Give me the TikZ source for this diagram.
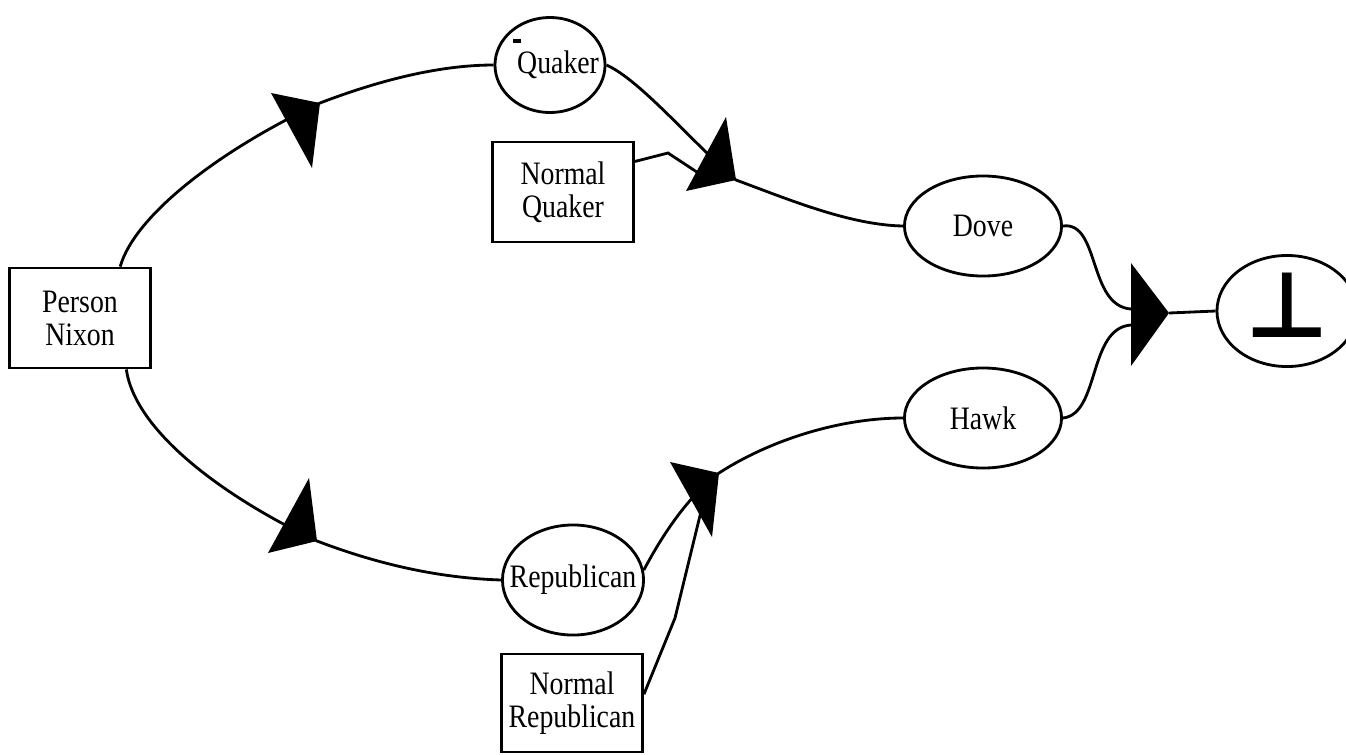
\documentclass[tikz,border=0pt]{standalone}
\usepackage{fontspec}
\setmainfont{Liberation Serif}[FakeStretch=0.85]
\newfontfamily\symfont{DejaVu Sans}
\usetikzlibrary{shapes.geometric}
\begin{document}
\begin{tikzpicture}[x=0.01cm, y=-0.01cm, line width=0.8pt,
		every node/.style={font=\fontsize{9.3}{9.4}\selectfont, align=center, inner sep=0pt},
		box/.style={draw, rectangle, minimum width=1.41cm, minimum height=1cm},
		oval/.style={draw, ellipse, minimum width=1.57cm, minimum height=1cm}]
		\useasboundingbox (0,0) rectangle (1346,754);
		\node[box] (person) at (80,318) {Person\\Nixon};
		\node[oval, minimum width=1.1cm, minimum height=0.95cm, label={[xshift=2.3pt]center:Quaker}] (quaker) at (550,65) {};
		\fill (513,39) rectangle (521,42.5);
		\node[box] (nquaker) at (563,192) {Normal\\Quaker};
		\node[oval, label=center:Dove] (dove) at (983,226) {};
		\node[oval, label=center:Hawk] (hawk) at (983,418) {};
		\node[oval, minimum width=1.41cm, minimum height=1.1cm, label=center:Republican] (rep) at (573,580) {};
		\node[box, minimum height=0.98cm] (nrep) at (572,703) {Normal\\Republican};
		\node[oval, minimum width=1.4cm, minimum height=1.11cm, label={[font=\symfont\bfseries\fontsize{26}{26}\selectfont, yshift=1.5pt]center:⊥}] (bot) at (1287,311) {};
		\coordinate (t1) at (320,103);
		\coordinate (t2) at (317,541);
		\coordinate (t3) at (736,180);
		\coordinate (t4) at (719,473);
		\coordinate (t5) at (1169,313);
		\coordinate (q3) at (712,182);
		\coordinate (r4) at (705,495);
		\coordinate (d5) at (1131,309);
		\coordinate (h5) at (1131,325);
		\draw (person.52) .. controls (135,215) and (220,150) .. (t1) .. controls (380,80) and (440,65) .. (quaker.west);
		\draw (person.-48) .. controls (135,430) and (220,495) .. (t2) .. controls (380,565) and (440,578) .. (rep.west);
		\draw (quaker.east) .. controls (640,80) and (690,140) .. (t3) .. controls (790,200) and (850,225) .. (dove.west);
		\draw (nquaker.23) -- (668,153) -- (q3);
		\draw (rep.8) .. controls (665,530) and (690,495) .. (t4) .. controls (770,440) and (840,418) .. (hawk.west);
		\draw (nrep.7) -- (675,618) -- (r4);
		\draw (dove.east) .. controls (1100,221) and (1088,306) .. (d5);
		\draw (hawk.east) .. controls (1100,414) and (1088,328) .. (h5);
		\draw (t5) -- (bot.west);
		\fill (271,93) -- (t1) -- (312,168) -- cycle;
		\fill (309,478) -- (t2) -- (268,553) -- cycle;
		\fill (726,117) -- (t3) -- (686,191) -- cycle;
		\fill (670,462) -- (t4) -- (712,537) -- cycle;
		\fill (1131,263) -- (t5) -- (1131,366) -- cycle;
	\end{tikzpicture}
\end{document}
